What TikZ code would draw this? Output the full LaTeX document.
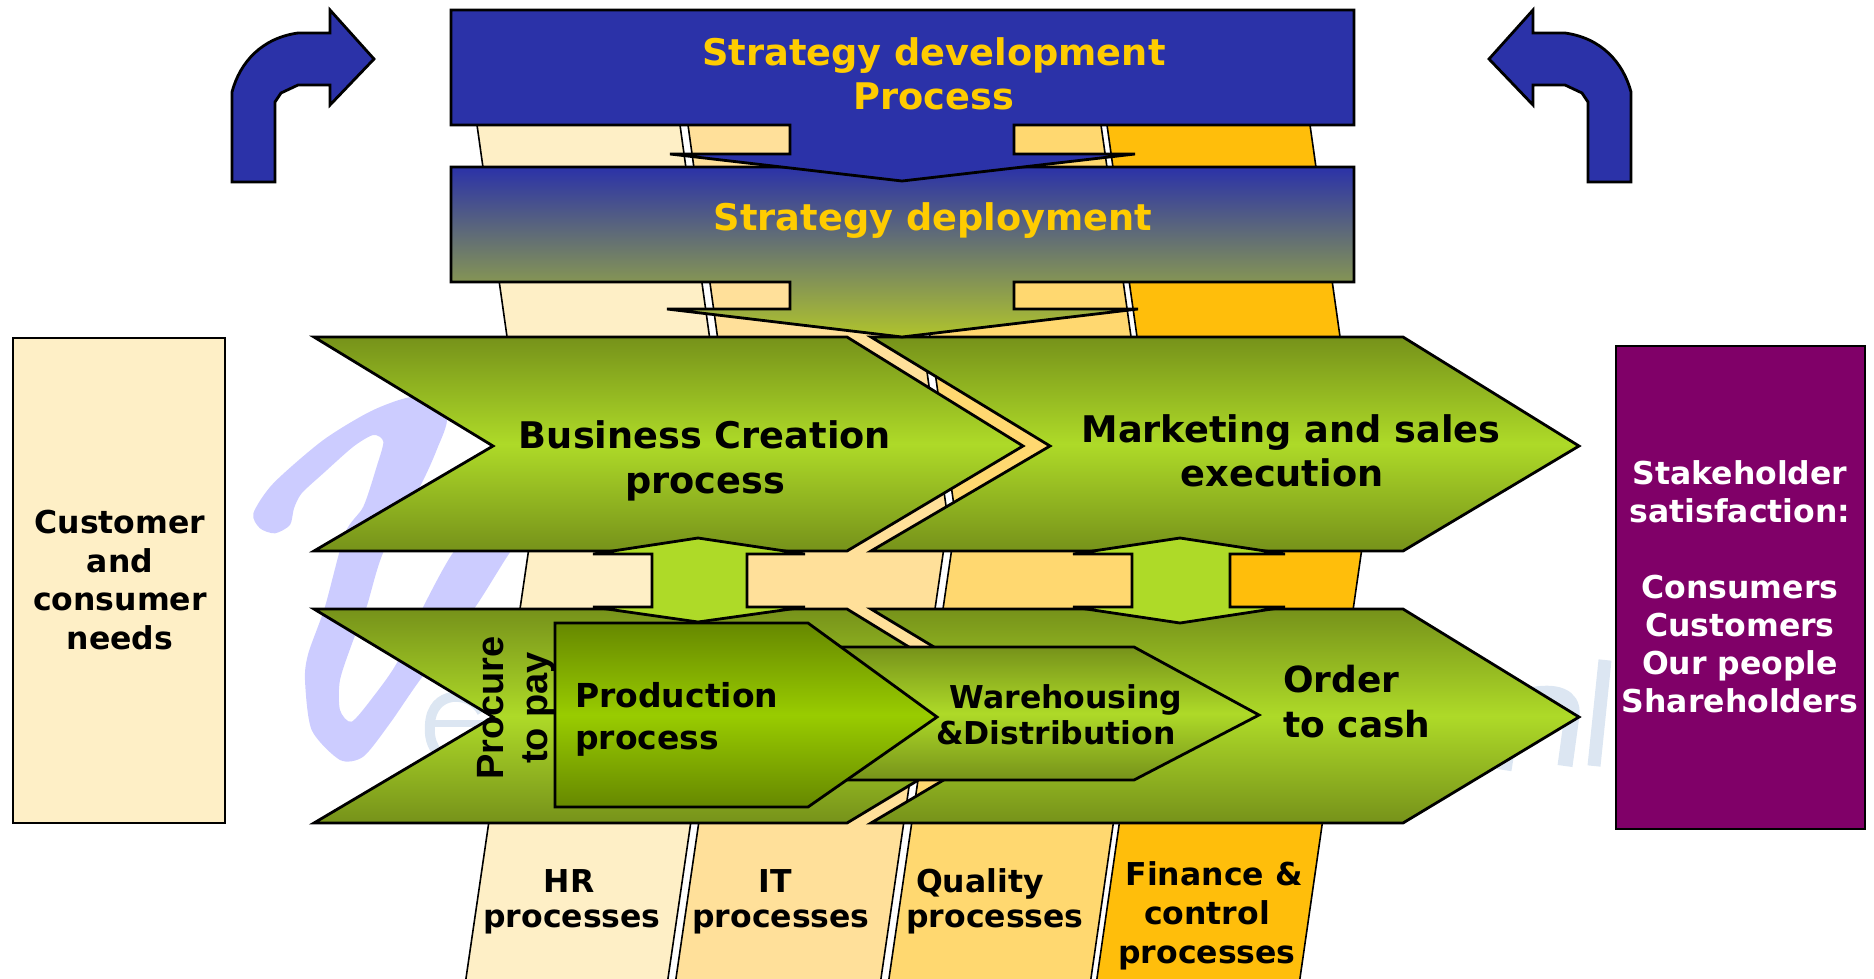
\documentclass[tikz,border=0pt]{standalone}
\usepackage{fontspec}
\setmainfont{DejaVu Sans}
\newfontfamily\arialbold{Liberation Sans}
\definecolor{stratblue}{HTML}{2B32A8}
\definecolor{stripehr}{HTML}{FEEFC6}
\definecolor{stripeit}{HTML}{FFE09A}
\definecolor{stripeq}{HTML}{FFD870}
\definecolor{stripef}{HTML}{FFBE0B}
\definecolor{chevdark}{HTML}{76921A}
\definecolor{chevlight}{HTML}{AEDA28}
\definecolor{proddark}{HTML}{668800}
\definecolor{prodlight}{HTML}{99CC00}
\definecolor{plum}{HTML}{800068}
\definecolor{stratgold}{HTML}{FFCC00}
\definecolor{wmpurple}{HTML}{CCCCFF}
\definecolor{wmblue}{HTML}{DCE6F2}
\definecolor{depfoot}{HTML}{B0C42C}
\tikzset{
  outline/.style={draw=black,line width=2.8pt,miter limit=12},
  stripeshape/.style={draw=black,line width=1.6pt},
  chevron/.style={outline,top color=chevdark,bottom color=chevdark,middle color=chevlight},
  prodshape/.style={outline,top color=proddark,bottom color=proddark,middle color=prodlight},
  bluearrow/.style={outline,fill=stratblue},
  linkarrow/.style={outline,fill=chevlight},
  wmthin/.style={draw=wmblue},
  lbl/.style={inner sep=0pt,anchor=base,align=center},
  lblleft/.style={inner sep=0pt,anchor=base west,align=left},
  big/.style={font=\fontsize{36.7}{45}\selectfont\bfseries},
  mid/.style={font=\fontsize{31.5}{38.5}\selectfont\bfseries},
  foot/.style={font=\fontsize{31.5}{35}\selectfont\bfseries}
}
\newcommand{\stripepoly}[7]{%
  \path[stripeshape,fill=#1] (#2,125) -- (#3,520) -- (#4,992) -- (#7,992) -- (#6,520) -- (#5,125) -- cycle;}
\begin{document}
\begin{tikzpicture}[x=1pt,y=-1pt]
\useasboundingbox (0,0) rectangle (1874,978);
% watermark
\begin{scope}[shift={(240,380)},x=0.3333pt,y=-0.3333pt]
\fill[wmpurple] plot[smooth cycle,tension=0.45] coordinates {(40,400) (60,445) (105,460) (150,435) (162,385) (185,340) (250,280) (340,200) (400,165) (430,185) (410,260) (370,380) (315,460) (255,680) (205,820) (195,900) (215,1050) (300,1140) (370,1130) (450,1030) (540,900) (700,690) (810,517) (900,400) (750,400) (640,517) (550,680) (470,850) (400,950) (335,1025) (300,990) (300,900) (340,780) (380,680) (430,517) (540,320) (590,210) (620,110) (530,50) (400,90) (250,180) (100,310)};
\end{scope}
\draw[wmthin,line width=10pt] (482,712) .. controls (470,690) and (432,690) .. (430,724) .. controls (428,745) and (438,755) .. (447,760);
\draw[wmthin,line width=7pt] (432,723) -- (490,723);
\draw[wmthin,line width=15pt] (1504,770) -- (1512,720);
\draw[wmthin,line width=15pt] (1565,766) -- (1572,715) .. controls (1574,695) and (1555,690) .. (1530,695);
\draw[wmthin,line width=13pt] (1594,766) -- (1605,660);
% support stripes
\stripepoly{stripehr}{477}{533}{464}{680}{735}{666}
\stripepoly{stripeit}{688}{743}{674}{892}{948}{879}
\stripepoly{stripeq}{900}{956}{887}{1101}{1157}{1089}
\stripepoly{stripef}{1107}{1163}{1095}{1310}{1366}{1298}
% end boxes
\draw[outline,fill=stripehr] (13,338) rectangle (225,823);
\draw[outline,fill=plum] (1616,346) rectangle (1865,829);
% bent arrows
\path[bluearrow] (232,182) -- (275,182) -- (275,102) -- (281,93) -- (298,85) -- (330,85) -- (330,105) -- (374,59) -- (330,10) -- (330,33) -- (298,33) .. controls (262,38) and (240,62) .. (232,92) -- cycle;
\path[bluearrow] (1631,182) -- (1588,182) -- (1588,102) -- (1582,93) -- (1565,85) -- (1533,85) -- (1533,105) -- (1489,59) -- (1533,10) -- (1533,33) -- (1565,33) .. controls (1601,38) and (1623,62) .. (1631,92) -- cycle;
% process chevrons
\path[chevron] (314,337) -- (847,337) -- (1023,446) -- (847,551) -- (314,551) -- (493,446) -- cycle;
\path[chevron] (871,337) -- (1403,337) -- (1579,446) -- (1403,551) -- (871,551) -- (1050,446) -- cycle;
\path[chevron] (314,609) -- (847,609) -- (1023,717) -- (847,823) -- (314,823) -- (493,717) -- cycle;
\path[chevron] (871,609) -- (1403,609) -- (1579,717) -- (1403,823) -- (871,823) -- (1050,717) -- cycle;
\path[chevron] (830,647) -- (1134,647) -- (1259,715) -- (1134,780) -- (830,780) -- cycle;
\path[prodshape] (555,623) -- (808,623) -- (937,717) -- (808,807) -- (555,807) -- cycle;
% link arrows
\path[linkarrow] (698,538) -- (805,554) -- (747,554) -- (747,607) -- (805,607) -- (698,622) -- (593,607) -- (652,607) -- (652,554) -- (593,554) -- cycle;
\path[linkarrow] (1180,538) -- (1285,554) -- (1230,554) -- (1230,607) -- (1285,607) -- (1180,623) -- (1073,607) -- (1132,607) -- (1132,554) -- (1073,554) -- cycle;
% strategy callouts
\path[outline,top color=stratblue,bottom color=depfoot] (451,167) -- (1354,167) -- (1354,282) -- (1014,282) -- (1014,309) -- (1138,309) -- (902,337) -- (667,309) -- (790,309) -- (790,282) -- (451,282) -- cycle;
\path[bluearrow] (451,10) -- (1354,10) -- (1354,125) -- (1014,125) -- (1014,154) -- (1135,154) -- (902,181) -- (670,154) -- (790,154) -- (790,125) -- (451,125) -- cycle;
% labels (a multi-line node's base anchor is its last line)
\node[lbl,big,text=stratgold,font=\fontsize{36.7}{44}\selectfont\bfseries] (stratdev) at (934,109) {Strategy development\\Process};
\node[lbl,big,text=stratgold] (stratdep) at (933,230) {Strategy deployment};
\node[lbl,big] (bizcreate) at (705,493) {Business Creation\\process};
\node[lbl,big,font=\fontsize{36.7}{44}\selectfont\bfseries] (marketing) at (1282,486) {\hspace*{18pt}Marketing and sales\\execution};
\node[lblleft,font=\fontsize{36}{45}\selectfont\bfseries] (ordercash) at (1283,737) {Order\\to cash};
\node[lbl,font=\fontsize{31.5}{36}\selectfont\bfseries] (warehouse) at (1056,744) {\hspace*{20pt}Warehousing\\\&Distribution};
\node[lblleft,font=\fontsize{33}{42}\selectfont\bfseries] (production) at (575,749) {Production\\process};
\node[lbl,rotate=90,font=\fontsize{38}{44}\selectfont\arialbold\bfseries] (procure) at (547,708) {Procure\\to pay};
\node[lbl,mid] (custneeds) at (120,649) {Customer\\and\hspace*{10pt}\\consumer\\needs};
\node[lbl,mid,text=white,font=\fontsize{31.5}{38}\selectfont\bfseries] (stakehold) at (1740,712) {Stakeholder\\satisfaction:\\[38pt]Consumers\\Customers\\Our people\\Shareholders};
\node[lbl,foot] (hrproc) at (572,927) {HR\hspace*{6pt}\\processes};
\node[lbl,foot] (itproc) at (781,927) {IT\hspace*{12pt}\\processes};
\node[lbl,foot] (qualproc) at (995,927) {Quality\hspace*{30pt}\\processes};
\node[lbl,mid,font=\fontsize{31.5}{39}\selectfont\bfseries] (finproc) at (1207,963) {\hspace*{14pt}Finance \&\\control\\processes};
\end{tikzpicture}
\end{document}
